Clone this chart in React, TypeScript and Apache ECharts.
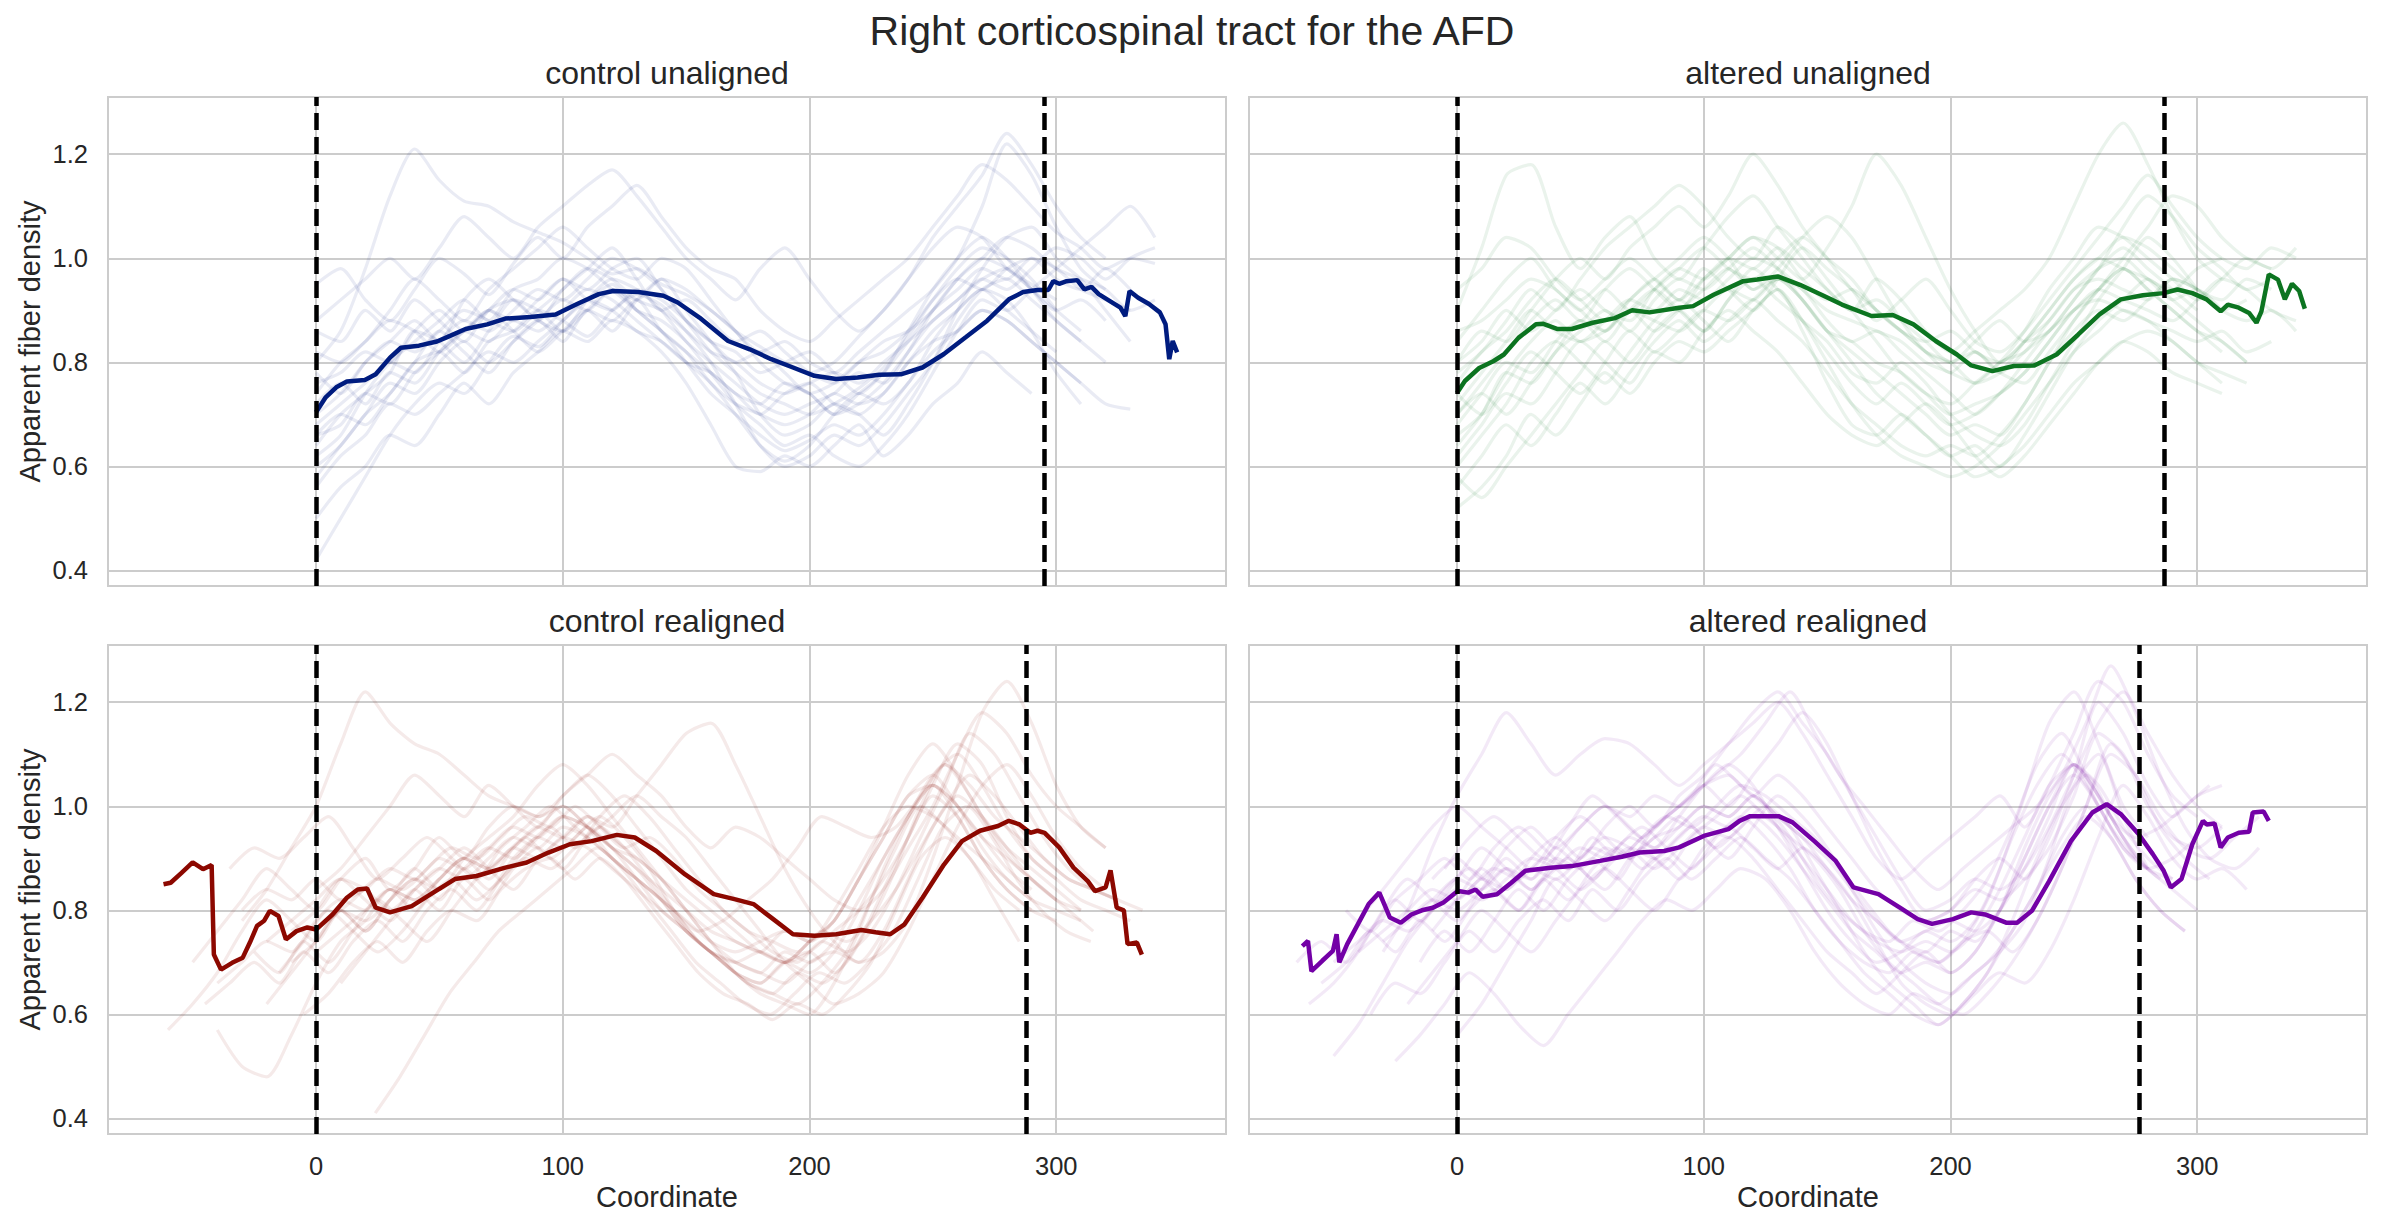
import React, { useEffect, useRef } from 'react';
import * as echarts from 'echarts';

const FONT = '"Liberation Sans", Arial, sans-serif';
const TEXT = '#262626';
const GRIDC = '#cccccc';

const X_MIN = -84.3;
const X_MAX = 368.8;
const Y_MIN = 0.37;
const Y_MAX = 1.31;

const mainTitle = 'Right corticospinal tract for the AFD';
const panelTitles = ['control unaligned', 'altered unaligned', 'control realigned', 'altered realigned'];
const xAxisLabel = 'Coordinate';
const yAxisLabel = 'Apparent fiber density';
const meanColors = ['#001c7f', '#0c7420', '#8c0800', '#7300a6'];
const vlines = [[0, 295], [0, 286.7], [0, 288], [0, 276.6]];

// mean curves [coordinate, value]
const meanControlUnaligned = [[0,0.704],[3.8,0.732],[8.2,0.752],[12.5,0.763],[19.8,0.766],[24.2,0.777],[30,0.809],[34.4,0.828],[41.7,0.832],[49,0.84],[53.4,0.849],[60.6,0.864],[69.4,0.873],[76.7,0.884],[86.9,0.887],[97.1,0.892],[105.8,0.912],[114.6,0.931],[120.4,0.937],[130.6,0.935],[140.8,0.928],[146.6,0.915],[155.4,0.886],[167,0.841],[175.8,0.825],[184.5,0.806],[193.3,0.79],[202,0.774],[210.8,0.768],[219.5,0.771],[228.3,0.776],[237,0.777],[245.8,0.79],[254.5,0.816],[263.3,0.848],[272,0.88],[280.8,0.921],[286.6,0.935],[292.4,0.939],[296.8,0.939],[298.8,0.956],[301.2,0.951],[304.2,0.956],[308.5,0.958],[311.4,0.94],[314.3,0.945],[317.2,0.931],[321.6,0.918],[326,0.905],[328,0.889],[329.7,0.937],[333.2,0.924],[337.6,0.912],[342,0.896],[344.3,0.873],[345.8,0.806],[347.2,0.841],[349,0.819]];
const meanAlteredUnaligned = [[0,0.741],[3.2,0.764],[9,0.789],[14.7,0.802],[19,0.815],[24.9,0.847],[32,0.873],[35,0.874],[40.8,0.864],[46.5,0.864],[55,0.876],[64,0.885],[71,0.9],[78,0.896],[90,0.905],[95.7,0.908],[104,0.93],[116,0.956],[121.7,0.959],[130,0.965],[139,0.949],[147.7,0.93],[156,0.911],[168,0.889],[176.6,0.891],[185,0.873],[194,0.841],[202.6,0.815],[208.4,0.794],[217,0.783],[225.7,0.793],[234,0.794],[243,0.815],[251.7,0.853],[260.4,0.892],[269,0.921],[278,0.929],[286.4,0.933],[292,0.94],[298,0.933],[303.8,0.921],[306,0.912],[309.5,0.898],[312.4,0.911],[316.8,0.905],[321,0.895],[324,0.876],[326,0.898],[329,0.969],[332.7,0.959],[335.5,0.921],[338.4,0.951],[341.3,0.937],[343.6,0.903]];
const meanControlRealigned = [[-61.8,0.85],[-58.9,0.853],[-54.5,0.872],[-50,0.892],[-45.8,0.879],[-42.3,0.887],[-41.4,0.715],[-38.5,0.686],[-34,0.699],[-29.7,0.709],[-26.8,0.738],[-23.9,0.77],[-21,0.78],[-18.7,0.799],[-15.2,0.789],[-12.2,0.744],[-7.9,0.76],[-3.5,0.767],[0,0.763],[6.7,0.792],[12.5,0.824],[16.9,0.84],[20.7,0.842],[24.2,0.805],[30,0.796],[38.8,0.808],[47.5,0.834],[56.3,0.86],[65,0.866],[76.7,0.882],[85.4,0.892],[94.2,0.911],[102.9,0.927],[111.7,0.933],[121.9,0.945],[129.2,0.94],[137.9,0.914],[149.6,0.869],[161.2,0.831],[170,0.821],[177.3,0.812],[184.5,0.786],[193.3,0.754],[202,0.751],[210.8,0.754],[221,0.762],[226.8,0.758],[232.7,0.754],[238.5,0.773],[245.8,0.824],[254.5,0.888],[261.8,0.933],[269.1,0.953],[276.4,0.962],[280.8,0.972],[285.1,0.965],[289.5,0.949],[292.4,0.953],[295.3,0.949],[301.2,0.921],[307,0.882],[312.8,0.856],[315.7,0.837],[320,0.844],[322,0.877],[324.5,0.805],[327.4,0.8],[328.9,0.735],[332.7,0.738],[334.7,0.715]];
const meanAlteredRealigned = [[-62.7,0.731],[-60.4,0.741],[-59,0.683],[-54.6,0.703],[-50.3,0.722],[-48.8,0.754],[-47.7,0.7],[-44.5,0.735],[-40.2,0.773],[-35.8,0.812],[-31.5,0.834],[-29.5,0.812],[-27.2,0.786],[-22.8,0.776],[-18.5,0.792],[-14.2,0.8],[-9.8,0.805],[-5.5,0.815],[0.3,0.837],[4.6,0.834],[7.5,0.84],[10.4,0.826],[16.2,0.831],[22,0.853],[27.7,0.876],[37.9,0.882],[46.5,0.885],[58,0.895],[66.8,0.903],[74,0.911],[84,0.914],[90,0.921],[100,0.943],[110,0.956],[114.5,0.972],[118.8,0.981],[130.3,0.981],[136,0.969],[144.8,0.933],[153.5,0.895],[160.7,0.844],[170.8,0.831],[179.5,0.805],[186.7,0.783],[192.5,0.774],[201,0.783],[208.4,0.796],[214,0.792],[222.8,0.776],[227,0.776],[233,0.799],[240,0.856],[248.8,0.933],[257.5,0.988],[263.3,1.004],[269,0.985],[276.3,0.946],[282,0.908],[286.4,0.876],[289.3,0.844],[293.6,0.86],[298,0.927],[302.3,0.972],[303.8,0.965],[307,0.967],[309.5,0.921],[312.4,0.94],[316.8,0.949],[321,0.951],[322.5,0.988],[326.9,0.99],[329,0.972]];

// individual subjects: values every FAINT_STEP units from a start coordinate
const FAINT_STEP = 10;
const faintControlUnalignedStart = [0, 0, 0, 0, 0, 0, 0, 0, 0, 0, 0, 0, 0, 0, 0, 0, 0, 0, 0, 0];
const faintControlUnaligned = [
  [0.80,0.86,0.98,1.12,1.21,1.15,1.11,1.10,1.07,1.05,1.03,1.00,0.97,0.98,0.95,0.93,0.90,0.86,0.83,0.80,0.78,0.80,0.85,0.90,0.96,1.02,1.06,1.04,0.98,0.95,0.92],
  [0.42,0.50,0.58,0.66,0.72,0.76,0.74,0.80,0.85,0.83,0.88,0.92,0.95,0.90,0.86,0.80,0.74,0.70,0.66,0.63,0.65,0.68,0.66,0.70,0.76,0.82,0.86,0.90,0.88,0.84,0.80,0.76],
  [0.95,0.98,0.92,0.88,0.94,1.00,0.97,0.93,0.99,1.04,1.00,1.06,1.10,1.14,1.08,1.02,0.98,0.96,0.90,0.86,0.84,0.88,0.92,0.96,1.00,1.06,1.12,1.18,1.15,1.10,1.05,1.02,0.98,1.00,0.99],
  [0.68,0.72,0.76,0.80,0.78,0.84,0.88,0.86,0.90,0.94,0.92,0.96,1.00,0.98,0.94,0.88,0.82,0.78,0.74,0.72,0.70,0.72,0.75,0.79,0.85,0.92,0.98,1.02,1.00,0.96,0.90],
  [0.60,0.64,0.70,0.74,0.80,0.82,0.78,0.84,0.86,0.90,0.88,0.85,0.90,0.93,0.91,0.86,0.80,0.72,0.64,0.60,0.62,0.66,0.64,0.68,0.74,0.80,0.88,0.94,0.96,0.92,0.88,0.84],
  [0.74,0.80,0.84,0.90,0.96,0.92,0.88,0.94,0.98,1.02,1.06,1.02,0.98,0.96,1.00,0.98,0.92,0.86,0.82,0.84,0.80,0.78,0.82,0.86,0.90,0.94,1.00,1.10,1.22,1.16,1.06,0.98,0.94],
  [0.56,0.62,0.66,0.72,0.70,0.74,0.78,0.82,0.80,0.84,0.88,0.92,0.90,0.86,0.84,0.80,0.76,0.70,0.64,0.61,0.64,0.70,0.74,0.72,0.76,0.84,0.90,0.94,0.92,0.86,0.78,0.72],
  [0.86,0.84,0.90,0.86,0.92,0.88,0.84,0.90,0.92,0.88,0.94,0.98,1.02,0.96,0.90,0.92,0.88,0.84,0.86,0.82,0.78,0.76,0.80,0.84,0.86,0.90,0.96,1.00,1.04,1.02,0.98,0.96,0.94,0.90,0.92],
  [0.66,0.70,0.68,0.74,0.80,0.86,0.82,0.78,0.84,0.88,0.84,0.90,0.86,0.92,0.96,0.90,0.84,0.78,0.70,0.66,0.68,0.72,0.70,0.66,0.72,0.80,0.90,0.98,1.04,1.06,1.00,0.96,0.90,0.84],
  [0.78,0.74,0.80,0.84,0.88,0.84,0.92,0.96,0.92,0.88,0.86,0.90,0.94,0.92,0.96,0.94,0.90,0.86,0.80,0.76,0.74,0.70,0.72,0.76,0.82,0.88,0.92,0.96,0.94,0.98,1.02,1.00,0.96,1.00,1.02],
  [0.50,0.56,0.60,0.66,0.64,0.70,0.76,0.72,0.78,0.82,0.86,0.84,0.88,0.86,0.82,0.76,0.68,0.60,0.59,0.62,0.60,0.64,0.68,0.62,0.66,0.72,0.76,0.82,0.78,0.74],
  [0.88,0.92,0.96,1.00,0.96,1.02,1.08,1.04,1.00,1.06,1.10,1.14,1.17,1.12,1.06,1.00,0.96,0.92,0.98,1.02,0.96,0.90,0.86,0.90,0.96,1.04,1.10,1.16,1.24,1.18,1.10,1.04,1.00],
  [0.72,0.76,0.72,0.78,0.76,0.82,0.86,0.90,0.86,0.82,0.86,0.90,0.88,0.92,0.86,0.82,0.78,0.74,0.70,0.74,0.76,0.72,0.70,0.74,0.80,0.84,0.86,0.90,0.88,0.84,0.80,0.76,0.72,0.71],
  [0.62,0.66,0.74,0.80,0.84,0.88,0.92,0.88,0.94,0.96,1.00,0.98,0.94,0.90,0.88,0.84,0.78,0.72,0.68,0.64,0.66,0.62,0.60,0.64,0.70,0.78,0.86,0.92,0.90,0.94,0.98,1.02,1.06,1.10,1.04],
  [0.70,0.74,0.80,0.84,0.82,0.86,0.90,0.88,0.86,0.90,0.94,0.98,0.96,0.92,0.90,0.86,0.82,0.80,0.76,0.74,0.76,0.78,0.76,0.80,0.84,0.88,0.92,0.96,0.98,0.94,0.90,0.92,0.88],
  [0.64,0.70,0.74,0.78,0.86,0.84,0.80,0.86,0.92,0.90,0.86,0.92,0.96,0.94,0.90,0.84,0.80,0.76,0.72,0.70,0.72,0.74,0.78,0.76,0.82,0.90,0.96,1.00,0.98,0.94,0.90,0.86],
  [0.82,0.80,0.84,0.88,0.86,0.82,0.86,0.90,0.94,0.92,0.96,0.94,0.98,1.00,0.94,0.88,0.84,0.82,0.78,0.80,0.82,0.78,0.74,0.78,0.84,0.90,0.94,0.98,0.96,1.00,0.96,0.94,0.98,0.94],
  [0.58,0.64,0.70,0.76,0.74,0.80,0.84,0.80,0.84,0.88,0.92,0.90,0.94,0.90,0.86,0.82,0.76,0.72,0.70,0.68,0.70,0.74,0.72,0.74,0.80,0.86,0.90,0.94,0.90,0.86,0.82],
  [0.76,0.78,0.82,0.80,0.86,0.90,0.86,0.90,0.88,0.92,0.96,0.92,0.90,0.94,0.92,0.88,0.84,0.80,0.82,0.78,0.74,0.76,0.80,0.82,0.86,0.92,0.96,0.94,0.98,1.00,0.98,0.94,0.92,0.90],
  [0.66,0.68,0.74,0.72,0.78,0.82,0.86,0.84,0.88,0.86,0.90,0.94,0.92,0.88,0.84,0.80,0.78,0.74,0.72,0.76,0.74,0.70,0.74,0.78,0.86,0.94,1.00,1.04,1.00,0.94,0.88,0.84,0.80],
];
const faintAlteredUnalignedStart = [0, 0, 0, 0, 0, 0, 0, 0, 0, 0, 0, 0, 0, 0, 0, 0, 0, 0, 0, 0];
const faintAlteredUnaligned = [
  [0.52,0.56,0.62,0.70,0.66,0.72,0.78,0.74,0.80,0.84,0.82,0.86,0.90,0.94,0.88,0.80,0.72,0.66,0.62,0.60,0.58,0.60,0.64,0.70,0.76,0.82,0.86,0.90,0.88,0.84,0.80,0.76],
  [0.90,1.02,1.16,1.18,1.06,0.98,1.04,1.08,1.00,0.96,1.02,1.08,1.12,1.06,1.00,0.94,0.90,0.96,0.92,0.86,0.82,0.86,0.90,0.94,1.00,1.10,1.20,1.26,1.18,1.08,1.00,0.96],
  [0.70,0.76,0.82,0.88,0.92,0.88,0.94,0.98,0.94,0.90,0.96,1.00,1.04,1.00,0.96,1.02,1.10,1.20,1.14,1.04,0.94,0.86,0.80,0.84,0.90,0.96,1.00,1.04,1.02,0.98,0.94,0.92,0.96,0.94],
  [0.60,0.66,0.72,0.80,0.84,0.80,0.76,0.82,0.88,0.92,0.88,0.84,0.90,0.94,0.86,0.76,0.68,0.66,0.70,0.66,0.62,0.64,0.60,0.66,0.74,0.82,0.88,0.92,0.96,0.92,0.88,0.84,0.80],
  [0.80,0.86,0.84,0.90,0.96,1.00,0.96,1.02,1.06,1.10,1.06,1.12,1.20,1.14,1.06,1.00,0.94,0.90,0.86,0.82,0.78,0.82,0.78,0.76,0.82,0.88,0.94,1.00,1.06,1.12,1.10,1.04,1.00,0.98],
  [0.66,0.70,0.78,0.76,0.82,0.86,0.90,0.86,0.92,0.96,0.94,0.98,1.02,0.98,0.92,0.86,0.82,0.78,0.74,0.70,0.66,0.68,0.66,0.72,0.80,0.86,0.90,0.88,0.92,0.96,0.94,0.90,0.88,0.90,0.86],
  [0.58,0.54,0.60,0.66,0.72,0.78,0.84,0.80,0.86,0.90,0.86,0.92,0.96,0.92,0.88,0.84,0.78,0.76,0.80,0.76,0.70,0.66,0.64,0.68,0.76,0.84,0.92,0.98,1.04,1.00,0.94],
  [0.94,0.98,1.04,1.02,0.96,0.92,0.96,1.00,0.96,0.92,0.98,0.94,0.90,0.96,1.02,0.98,0.94,0.88,0.92,0.96,0.90,0.84,0.82,0.86,0.92,0.98,1.04,1.10,1.16,1.10,1.04,1.00,0.98,1.02,1.00],
  [0.74,0.70,0.76,0.82,0.78,0.74,0.80,0.86,0.82,0.86,0.90,0.88,0.92,0.96,0.92,0.86,0.80,0.74,0.70,0.66,0.62,0.58,0.60,0.64,0.70,0.76,0.80,0.84,0.86,0.84,0.80,0.78,0.76],
  [0.84,0.90,0.96,1.00,0.94,0.90,0.86,0.92,0.96,1.00,1.04,1.00,0.94,0.98,1.04,1.08,1.04,0.96,0.88,0.82,0.80,0.84,0.88,0.84,0.86,0.92,0.98,1.06,1.12,1.08,1.02,0.98,0.94,0.96],
  [0.62,0.68,0.74,0.72,0.78,0.84,0.80,0.76,0.82,0.80,0.86,0.90,0.86,0.82,0.76,0.70,0.66,0.64,0.68,0.72,0.68,0.62,0.58,0.62,0.68,0.74,0.80,0.84,0.82,0.78,0.76,0.74],
  [0.78,0.82,0.88,0.94,0.90,0.96,1.02,1.06,1.10,1.14,1.10,1.04,1.00,1.06,1.02,0.96,0.90,0.84,0.78,0.74,0.72,0.76,0.80,0.86,0.94,1.00,1.06,1.04,1.00,0.96,0.92,0.96,1.00,0.98,1.02],
  [0.70,0.74,0.70,0.76,0.82,0.88,0.84,0.90,0.94,0.90,0.86,0.92,0.98,0.94,0.88,0.82,0.76,0.72,0.76,0.72,0.68,0.70,0.74,0.78,0.84,0.90,0.94,0.98,0.94,0.90,0.86,0.82],
  [0.56,0.62,0.68,0.64,0.70,0.76,0.72,0.78,0.84,0.88,0.84,0.88,0.92,0.88,0.84,0.78,0.72,0.68,0.64,0.62,0.64,0.62,0.66,0.72,0.80,0.88,0.94,0.98,0.94,0.90,0.86,0.84,0.80],
  [0.72,0.78,0.84,0.90,0.86,0.84,0.88,0.92,0.90,0.94,0.92,0.96,1.00,0.98,0.94,0.90,0.88,0.86,0.84,0.80,0.78,0.76,0.80,0.82,0.88,0.94,0.96,0.94,0.92,0.96,0.94,0.90,0.92],
  [0.80,0.84,0.90,0.86,0.90,0.94,0.90,0.88,0.94,0.98,0.96,1.00,1.04,1.02,0.96,0.92,0.94,0.90,0.86,0.82,0.80,0.76,0.78,0.84,0.90,0.96,1.00,0.98,0.96,0.92,0.94,0.90],
  [0.64,0.70,0.78,0.84,0.88,0.84,0.86,0.90,0.86,0.90,0.94,0.98,0.94,0.96,0.92,0.86,0.84,0.80,0.78,0.74,0.70,0.72,0.74,0.78,0.84,0.90,0.92,0.90,0.88,0.86,0.84,0.86,0.82,0.84],
  [0.76,0.82,0.86,0.92,0.96,0.92,0.88,0.92,0.96,0.92,0.96,1.00,0.98,1.02,0.98,0.94,0.90,0.92,0.88,0.84,0.80,0.82,0.78,0.82,0.86,0.92,0.98,1.02,0.98,0.94,0.90],
  [0.68,0.74,0.80,0.78,0.84,0.88,0.86,0.90,0.88,0.86,0.90,0.94,0.92,0.96,0.94,0.88,0.84,0.86,0.82,0.78,0.74,0.70,0.74,0.80,0.86,0.90,0.94,0.92,0.90,0.88,0.92,0.96,0.94,0.90,0.88],
  [0.86,0.88,0.92,0.96,0.94,0.90,0.94,0.90,0.94,0.98,1.02,0.98,0.96,1.00,1.04,1.00,0.96,0.90,0.86,0.84,0.86,0.82,0.80,0.84,0.88,0.94,0.98,1.00,0.96,0.94,0.98,1.00],
];
const faintControlRealignedStart = [-40, -30, -50, 24, -20, -10, -35, -5, -25, 0, -45, -15, -60, 10, -20, -10, -30, 0, -40, 5];
const faintControlRealigned = [
  [0.57,0.50,0.48,0.56,0.66,0.74,0.78,0.84,0.80,0.86,0.90,0.86,0.92,0.96,1.00,0.96,0.90,0.86,0.82,0.76,0.72,0.68,0.66,0.70,0.72,0.68,0.74,0.84,0.94,1.02,0.98,0.90,0.84,0.80,0.78],
  [0.78,0.84,0.92,1.00,1.12,1.22,1.16,1.12,1.10,1.06,1.02,1.00,0.98,1.00,0.96,0.92,0.90,0.86,0.82,0.78,0.74,0.72,0.70,0.72,0.76,0.80,0.86,0.94,1.04,1.12,1.08,0.98,0.90,0.86],
  [0.70,0.76,0.82,0.88,0.84,0.80,0.86,0.90,0.84,0.88,0.94,0.90,0.96,1.00,0.98,1.02,1.06,1.02,0.96,0.90,0.84,0.80,0.76,0.72,0.70,0.74,0.78,0.86,0.96,1.06,1.12,1.06,0.98,0.92,0.88,0.84,0.80],
  [0.41,0.48,0.56,0.64,0.70,0.76,0.80,0.84,0.88,0.92,0.88,0.82,0.76,0.70,0.66,0.62,0.60,0.64,0.68,0.66,0.70,0.76,0.86,0.96,1.00,0.94,0.86,0.80,0.76,0.74],
  [0.62,0.68,0.74,0.80,0.76,0.82,0.88,0.84,0.90,0.94,0.98,1.04,1.08,1.04,0.98,0.92,0.86,0.80,0.74,0.68,0.64,0.62,0.60,0.66,0.76,0.88,0.98,1.06,1.10,1.04,0.96,0.90,0.86,0.82,0.80,0.78],
  [0.76,0.80,0.86,0.82,0.78,0.84,0.88,0.92,0.88,0.84,0.90,0.94,0.98,0.96,1.02,1.08,1.14,1.16,1.08,0.98,0.88,0.80,0.74,0.70,0.72,0.78,0.90,1.04,1.18,1.24,1.16,1.04,0.96,0.92],
  [0.88,0.92,0.90,0.94,0.98,0.92,0.86,0.90,0.94,0.90,0.86,0.92,0.96,1.00,0.96,0.92,0.88,0.84,0.80,0.76,0.78,0.82,0.86,0.92,0.98,0.96,0.94,0.96,1.02,1.08,1.04,0.98,0.94,0.90,0.86,0.84,0.82],
  [0.60,0.64,0.70,0.74,0.70,0.76,0.80,0.78,0.84,0.88,0.90,0.86,0.90,0.86,0.80,0.74,0.68,0.64,0.62,0.59,0.62,0.60,0.64,0.70,0.80,0.90,0.94,0.90,0.82,0.74],
  [0.72,0.68,0.74,0.70,0.76,0.82,0.78,0.74,0.80,0.86,0.90,0.94,0.90,0.94,0.98,0.94,0.88,0.80,0.74,0.70,0.66,0.64,0.68,0.66,0.70,0.78,0.88,1.00,1.08,1.02,0.94,0.88,0.84,0.80,0.76],
  [0.84,0.88,0.94,1.00,1.06,1.02,0.98,1.04,1.00,0.96,1.02,1.06,1.10,1.06,1.02,0.96,0.92,0.96,0.94,0.90,0.86,0.82,0.80,0.84,0.92,1.00,1.10,1.18,1.14,1.06,1.00,0.96,0.92],
  [0.62,0.66,0.70,0.66,0.72,0.68,0.74,0.78,0.74,0.80,0.84,0.80,0.86,0.90,0.88,0.92,0.96,0.92,0.86,0.80,0.74,0.70,0.66,0.64,0.62,0.66,0.72,0.82,0.92,1.00,0.96,0.90,0.84,0.80],
  [0.68,0.74,0.80,0.76,0.72,0.76,0.82,0.86,0.82,0.86,0.92,0.96,0.92,0.98,1.02,0.98,0.92,0.86,0.80,0.76,0.72,0.70,0.74,0.72,0.76,0.84,0.94,1.04,1.14,1.10,1.02,0.94,0.88,0.84,0.82,0.80],
  [0.57,0.62,0.68,0.76,0.82,0.78,0.74,0.80,0.76,0.82,0.86,0.82,0.88,0.84,0.90,0.94,0.92,0.96,0.92,0.86,0.80,0.76,0.72,0.68,0.66,0.70,0.68,0.72,0.80,0.90,0.98,1.04,1.00,0.92,0.86,0.82],
  [0.66,0.72,0.78,0.84,0.80,0.86,0.82,0.88,0.92,0.88,0.94,0.98,1.02,0.98,0.94,0.88,0.82,0.76,0.70,0.66,0.62,0.64,0.68,0.76,0.86,0.96,1.04,1.08,1.02,0.94,0.88,0.84],
  [0.74,0.78,0.82,0.86,0.84,0.80,0.84,0.88,0.86,0.90,0.94,0.92,0.96,0.94,0.90,0.86,0.82,0.78,0.74,0.72,0.74,0.76,0.74,0.80,0.88,0.96,1.00,0.98,0.94,0.90,0.86,0.82,0.80,0.78],
  [0.70,0.74,0.80,0.78,0.82,0.86,0.84,0.88,0.92,0.90,0.94,0.98,0.96,0.92,0.88,0.82,0.76,0.72,0.70,0.72,0.70,0.74,0.78,0.86,0.94,1.02,1.04,0.98,0.90,0.84,0.80],
  [0.80,0.84,0.82,0.86,0.82,0.84,0.88,0.86,0.90,0.88,0.92,0.96,0.94,0.98,0.96,0.92,0.88,0.84,0.80,0.76,0.74,0.72,0.76,0.74,0.78,0.86,0.94,1.02,1.06,1.00,0.94,0.90,0.86,0.82],
  [0.72,0.76,0.80,0.84,0.82,0.86,0.90,0.88,0.92,0.96,0.94,0.98,0.94,0.90,0.86,0.80,0.74,0.70,0.68,0.66,0.70,0.72,0.70,0.76,0.86,0.96,1.02,0.98,0.92,0.86,0.82,0.80],
  [0.66,0.70,0.74,0.72,0.78,0.82,0.80,0.84,0.82,0.86,0.90,0.88,0.92,0.90,0.94,0.92,0.88,0.84,0.80,0.76,0.72,0.70,0.68,0.72,0.70,0.74,0.82,0.90,0.98,1.04,1.00,0.94,0.88,0.84],
  [0.78,0.82,0.86,0.84,0.88,0.92,0.90,0.94,0.98,0.96,1.00,0.96,0.92,0.94,0.90,0.84,0.80,0.76,0.74,0.72,0.76,0.74,0.78,0.84,0.92,1.00,1.06,1.02,0.96,0.90,0.86,0.84,0.82],
];
const faintAlteredRealignedStart = [-60, -50, -30, -25, -40, -15, -55, -5, -35, -45, -20, -10, -65, 0, -30, -20, -50, -5, -40, -10];
const faintAlteredRealigned = [
  [0.62,0.66,0.72,0.80,0.86,0.82,0.78,0.84,0.90,0.86,0.92,0.88,0.84,0.90,0.94,0.98,0.94,0.90,0.96,1.02,0.98,0.92,0.84,0.76,0.70,0.66,0.64,0.68,0.72,0.78,0.90,1.04,1.10,0.98,0.88],
  [0.52,0.58,0.66,0.74,0.80,0.86,0.92,0.88,0.84,0.90,0.96,1.00,0.96,0.92,0.98,1.04,1.08,1.04,0.96,0.88,0.80,0.74,0.70,0.72,0.76,0.74,0.78,0.88,1.02,1.16,1.22,1.12,1.00,0.94],
  [0.72,0.80,0.92,1.02,1.10,1.18,1.12,1.06,1.10,1.13,1.12,1.08,1.04,1.08,1.12,1.16,1.20,1.14,1.06,0.98,0.90,0.86,0.90,0.94,0.98,1.02,0.96,1.04,1.14,1.24,1.20,1.10,1.02,0.98],
  [0.51,0.56,0.62,0.68,0.64,0.58,0.54,0.60,0.66,0.72,0.78,0.82,0.80,0.84,0.88,0.86,0.80,0.72,0.66,0.62,0.60,0.64,0.62,0.66,0.70,0.76,0.84,0.92,0.98,0.94,0.86,0.80,0.76],
  [0.78,0.84,0.90,0.96,1.00,0.96,0.92,0.88,0.94,0.98,0.94,0.90,0.96,1.00,1.04,1.00,1.06,1.12,1.18,1.12,1.02,0.92,0.84,0.78,0.80,0.86,0.90,0.86,0.94,1.06,1.20,1.14,1.04,0.98,1.02,1.04],
  [0.70,0.76,0.72,0.78,0.84,0.80,0.86,0.90,0.86,0.92,0.88,0.94,0.98,1.02,0.98,0.94,0.90,0.84,0.76,0.70,0.66,0.62,0.60,0.64,0.70,0.78,0.88,1.00,1.12,1.06,0.96,0.90,0.86],
  [0.66,0.70,0.76,0.72,0.78,0.74,0.80,0.84,0.80,0.86,0.82,0.88,0.92,0.88,0.92,0.96,0.92,0.96,1.00,0.96,0.88,0.80,0.72,0.66,0.62,0.58,0.62,0.68,0.78,0.90,1.00,1.06,0.98,0.90],
  [0.88,0.94,0.98,0.94,0.90,0.96,1.02,0.98,0.94,0.98,1.02,1.06,1.10,1.16,1.22,1.14,1.06,1.00,0.94,0.88,0.84,0.88,0.92,0.96,1.00,1.06,1.16,1.27,1.18,1.06,0.96,0.90,0.88,0.92],
  [0.60,0.66,0.64,0.70,0.76,0.72,0.78,0.82,0.78,0.84,0.80,0.86,0.90,0.86,0.90,0.94,0.90,0.86,0.80,0.74,0.68,0.64,0.60,0.58,0.62,0.68,0.76,0.84,0.94,1.00,0.94,0.86,0.80,0.76],
  [0.80,0.76,0.82,0.86,0.90,0.86,0.92,0.96,0.92,0.88,0.94,0.90,0.94,0.98,1.02,1.08,1.04,1.00,0.94,0.86,0.80,0.76,0.74,0.78,0.76,0.80,0.86,0.96,1.08,1.14,1.06,0.98,0.94,0.96,1.00,1.04],
  [0.62,0.68,0.74,0.80,0.76,0.72,0.78,0.84,0.88,0.84,0.80,0.86,0.90,0.94,0.90,0.84,0.78,0.72,0.68,0.64,0.68,0.72,0.68,0.72,0.80,0.90,1.00,1.08,1.02,0.94,0.88,0.84,0.80],
  [0.76,0.82,0.88,0.84,0.90,0.94,0.90,0.96,1.00,0.96,1.02,1.06,1.12,1.18,1.22,1.16,1.10,1.02,0.94,0.86,0.80,0.82,0.86,0.84,0.88,0.96,1.06,1.16,1.22,1.14,1.06,1.00,0.96],
  [0.70,0.74,0.70,0.76,0.82,0.78,0.84,0.88,0.84,0.80,0.86,0.90,0.86,0.92,0.96,0.92,0.88,0.94,0.98,0.94,0.88,0.80,0.74,0.70,0.68,0.72,0.70,0.74,0.82,0.94,1.04,1.10,1.04,0.96,0.90,0.86],
  [0.56,0.62,0.70,0.78,0.86,0.82,0.78,0.84,0.90,0.86,0.92,0.96,0.92,0.88,0.92,0.88,0.82,0.74,0.66,0.62,0.60,0.64,0.68,0.66,0.72,0.82,0.94,1.04,0.98,0.90,0.86,0.88,0.84],
  [0.74,0.78,0.82,0.80,0.84,0.88,0.86,0.90,0.88,0.92,0.90,0.94,0.96,1.00,0.98,1.02,0.98,0.94,0.90,0.84,0.78,0.74,0.72,0.76,0.74,0.80,0.90,1.00,1.06,1.00,0.92,0.88,0.90,0.94],
  [0.78,0.82,0.86,0.84,0.88,0.84,0.88,0.92,0.90,0.94,0.92,0.96,1.00,0.98,1.02,0.98,0.94,0.88,0.82,0.78,0.74,0.76,0.78,0.76,0.80,0.88,0.98,1.08,1.04,0.96,0.90,0.86],
  [0.70,0.74,0.78,0.76,0.80,0.84,0.82,0.86,0.90,0.88,0.84,0.88,0.92,0.90,0.94,0.98,0.96,1.00,0.96,0.90,0.84,0.78,0.74,0.72,0.74,0.72,0.76,0.84,0.94,1.04,1.08,1.00,0.92,0.88],
  [0.80,0.84,0.88,0.86,0.90,0.88,0.92,0.90,0.94,0.98,0.96,1.00,1.04,1.02,0.98,0.94,0.88,0.82,0.76,0.72,0.70,0.74,0.76,0.72,0.78,0.88,1.00,1.10,1.06,0.98,0.92,0.90,0.94,0.98],
  [0.72,0.76,0.80,0.84,0.82,0.86,0.84,0.88,0.86,0.90,0.94,0.92,0.88,0.92,0.96,0.94,0.98,0.94,0.88,0.82,0.76,0.72,0.68,0.70,0.68,0.72,0.80,0.92,1.02,1.08,1.02,0.94,0.88,0.86],
  [0.86,0.90,0.86,0.92,0.96,0.92,0.96,1.00,0.98,1.02,1.00,1.04,1.06,1.02,1.06,1.02,0.96,0.90,0.84,0.80,0.78,0.80,0.84,0.82,0.86,0.92,1.02,1.14,1.10,1.00,0.94,0.92,0.96],
];

const panelMeans = [meanControlUnaligned, meanAlteredUnaligned, meanControlRealigned, meanAlteredRealigned];
const panelFaint = [faintControlUnaligned, faintAlteredUnaligned, faintControlRealigned, faintAlteredRealigned];
const panelFaintStart = [faintControlUnalignedStart, faintAlteredUnalignedStart, faintControlRealignedStart, faintAlteredRealignedStart];

const GRID_LEFTS = [108, 1249, 108, 1249];
const GRID_TOPS = [97, 97, 645, 645];
const GRID_W = 1118;
const GRID_H = 489;

function isTick(v: number, step: number) {
  const r = v / step;
  return Math.abs(r - Math.round(r)) < 1e-6;
}

function buildOption() {
  const grids = GRID_LEFTS.map((l, i) => ({
    left: l,
    top: GRID_TOPS[i],
    width: GRID_W,
    height: GRID_H,
    show: true,
    borderColor: GRIDC,
    borderWidth: 2,
    backgroundColor: 'transparent',
  }));
  const xAxes = grids.map((_, i) => ({
    type: 'value',
    gridIndex: i,
    min: X_MIN,
    max: X_MAX,
    axisLine: { show: false },
    axisTick: { show: false },
    splitLine: { show: true, lineStyle: { color: GRIDC, width: 2 } },
    axisLabel: {
      show: i >= 2,
      showMinLabel: false,
      showMaxLabel: false,
      margin: 19,
      fontSize: 25.5,
      fontFamily: FONT,
      color: TEXT,
      formatter: (v: number) => (isTick(v, 100) ? String(Math.round(v)) : ''),
    },
    name: i >= 2 ? xAxisLabel : '',
    nameLocation: 'middle',
    nameGap: 48,
    nameTextStyle: { fontSize: 29, fontFamily: FONT, color: TEXT },
  }));
  const yAxes = grids.map((_, i) => ({
    type: 'value',
    gridIndex: i,
    min: Y_MIN,
    max: Y_MAX,
    axisLine: { show: false },
    axisTick: { show: false },
    splitLine: { show: true, lineStyle: { color: GRIDC, width: 2 } },
    axisLabel: {
      show: i % 2 === 0,
      showMinLabel: false,
      showMaxLabel: false,
      margin: 20,
      fontSize: 25.5,
      fontFamily: FONT,
      color: TEXT,
      formatter: (v: number) => (isTick(v, 0.2) ? v.toFixed(1) : ''),
    },
    name: i % 2 === 0 ? yAxisLabel : '',
    nameLocation: 'middle',
    nameGap: 64,
    nameTextStyle: { fontSize: 29, fontFamily: FONT, color: TEXT },
  }));

  const series: any[] = [];
  panelFaint.forEach((lines, p) => {
    lines.forEach((vals, j) => {
      const s0 = panelFaintStart[p][j];
      series.push({
        type: 'line',
        xAxisIndex: p,
        yAxisIndex: p,
        data: vals.map((v, k) => [s0 + k * FAINT_STEP, v]),
        showSymbol: false,
        symbol: 'none',
        smooth: 0.25,
        silent: true,
        z: 1,
        lineStyle: { color: meanColors[p], width: 3.2, opacity: 0.085 },
      });
    });
  });
  panelMeans.forEach((m, p) => {
    series.push({
      type: 'line',
      xAxisIndex: p,
      yAxisIndex: p,
      data: m,
      showSymbol: false,
      symbol: 'none',
      silent: true,
      z: 3,
      lineStyle: { color: meanColors[p], width: 4.5 },
      markLine: {
        silent: true,
        symbol: ['none', 'none'],
        label: { show: false },
        animation: false,
        lineStyle: { color: '#000000', width: 4.5, type: [17, 7], opacity: 1 },
        emphasis: { disabled: true },
        data: vlines[p].map((x) => ({ xAxis: x })),
      },
    });
  });

  const titleCenters = [
    [GRID_LEFTS[0] + GRID_W / 2, 73],
    [GRID_LEFTS[1] + GRID_W / 2, 73],
    [GRID_LEFTS[2] + GRID_W / 2, 621],
    [GRID_LEFTS[3] + GRID_W / 2, 621],
  ];
  const graphic: any[] = [
    {
      type: 'text',
      x: 1192,
      y: 31,
      silent: true,
      style: {
        text: mainTitle,
        font: `41px ${FONT}`,
        fill: TEXT,
        align: 'center',
        verticalAlign: 'middle',
        textAlign: 'center',
        textVerticalAlign: 'middle',
      },
    },
    ...panelTitles.map((t, i) => ({
      type: 'text',
      x: titleCenters[i][0],
      y: titleCenters[i][1],
      silent: true,
      style: {
        text: t,
        font: `32px ${FONT}`,
        fill: TEXT,
        align: 'center',
        verticalAlign: 'middle',
        textAlign: 'center',
        textVerticalAlign: 'middle',
      },
    })),
  ];

  return {
    animation: false,
    backgroundColor: '#ffffff',
    grid: grids,
    xAxis: xAxes,
    yAxis: yAxes,
    series,
    graphic,
  };
}

export default function App() {
  const ref = useRef<HTMLDivElement>(null);
  useEffect(() => {
    document.body.style.margin = '0';
    const chart = echarts.init(ref.current as HTMLDivElement, null, { renderer: 'svg' });
    chart.setOption(buildOption() as any);
    return () => {
      chart.dispose();
    };
  }, []);
  return <div ref={ref} style={{ width: 2384, height: 1229 }} />;
}
